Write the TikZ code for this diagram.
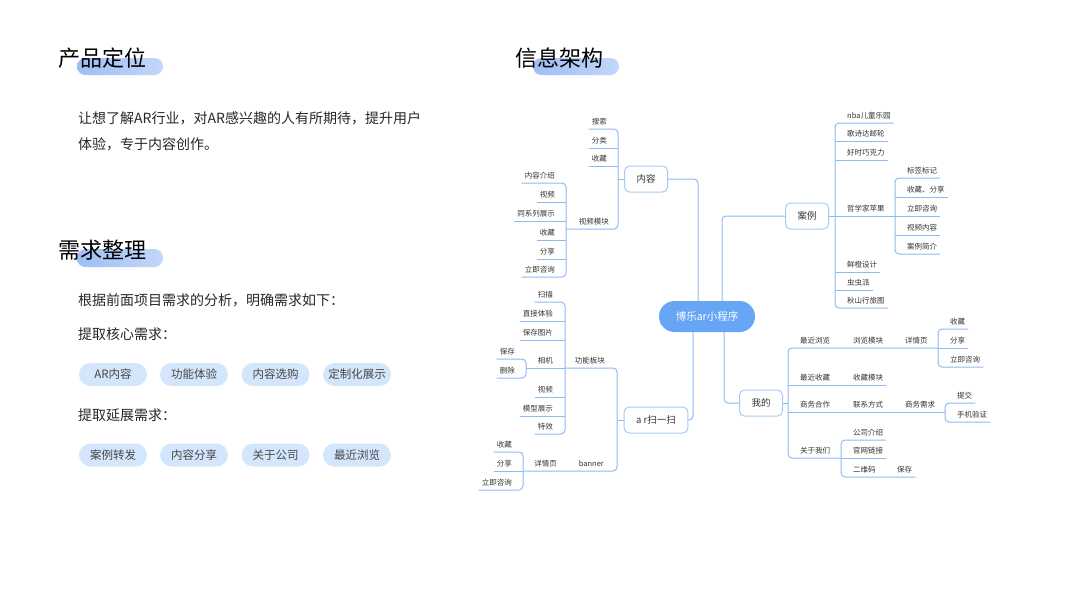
\documentclass[tikz,border=0pt]{standalone}
\usepackage{fontspec}
\setmainfont{Noto Sans CJK SC}
\definecolor{lineblue}{HTML}{8DB9F5}
\definecolor{boxblue}{HTML}{A8C9F7}
\definecolor{mainblue}{HTML}{66A6F5}
\definecolor{tagblue}{HTML}{D4E6FC}
\definecolor{pillL}{HTML}{9FBEF5}
\definecolor{pillR}{HTML}{C3D7FA}
\definecolor{txtgray}{HTML}{333333}

\begin{document}
\begin{tikzpicture}[x=1pt, y=-1pt,
    branch/.style={draw=lineblue, line width=1pt, rounded corners=4pt},
    topic/.style={draw=boxblue, line width=1pt, rounded corners=5pt, fill=white, minimum height=26pt, inner xsep=12pt, font=\fontsize{9.5}{11}\selectfont, text=txtgray},
    hub/.style={fill=mainblue, rounded corners=15.5pt, minimum width=96pt, minimum height=31pt, font=\fontsize{10.5}{12}\selectfont, text=white},
    leafL/.style={anchor=south east, inner xsep=3pt, inner ysep=3pt, text height=6.5pt, text depth=1pt, font=\fontsize{7.5}{9}\selectfont, text=txtgray},
    leafR/.style={leafL, anchor=south west},
    title/.style={anchor=west, inner sep=0pt, font=\fontsize{22}{26}\selectfont},
    body/.style={anchor=west, inner sep=0pt, font=\fontsize{14}{16}\selectfont, text=black!85},
    tag/.style={fill=tagblue, rounded corners=11.5pt, minimum width=68pt, minimum height=23pt, inner sep=0pt, font=\fontsize{11.5}{13}\selectfont, text=black!72},
    pill/.style={left color=pillL, right color=pillR, rounded corners=8.5pt}]
\useasboundingbox (0,0) rectangle (1067,600);

% Left column
\path[pill] (77,58) rectangle (163,75);
\node[title] (dingwei) at (58,58) {产品定位};
\node[body] (dwtxtA) at (78,118) {让想了解AR行业，对AR感兴趣的人有所期待，提升用户};
\node[body] (dwtxtB) at (78,144) {体验，专于内容创作。};

\path[pill] (77,249) rectangle (163,267);
\node[title] (xuqiu) at (58,250) {需求整理};
\node[body] (xqtxtA) at (78,300) {根据前面项目需求的分析，明确需求如下：};
\node[body] (xqtxtB) at (78,334) {提取核心需求：};
\node[tag] (hexA) at (113,374.5) {AR内容};
\node[tag] (hexB) at (194,374.5) {功能体验};
\node[tag] (hexC) at (275.5,374.5) {内容选购};
\node[tag] (hexD) at (357,374.5) {定制化展示};
\node[body] (xqtxtC) at (78,415) {提取延展需求：};
\node[tag] (yanA) at (113,455) {案例转发};
\node[tag] (yanB) at (194,455) {内容分享};
\node[tag] (yanC) at (275.5,455) {关于公司};
\node[tag] (yanD) at (357,455) {最近浏览};

% Mind map
\path[pill] (533,58) rectangle (619,75);
\node[title] (jiagou) at (515,58) {信息架构};

\node[hub] (hub) at (707,316.5) {博乐ar小程序};
\node[topic] (neirong) at (646,179) {内容};
\node[topic] (anli) at (807,216) {案例};
\node[topic] (wode) at (761,403) {我的};
\node[topic] (arsys) at (656,420) {a r扫一扫};
\coordinate (c1) at (698,316);
\coordinate (c2) at (722,316);
\coordinate (c3) at (724,316);
\coordinate (c4) at (693,316);
\draw[branch] (neirong.east) -| (c1 |- hub.north);
\draw[branch] (anli.west) -| (c2 |- hub.north);
\draw[branch] (wode.west) -| (c3 |- hub.south);
\draw[branch] (arsys.east) -| (c4 |- hub.south);

% 内容
\coordinate (t1) at (618,179);
\coordinate (t2) at (566,229);
\node[leafL] (sousuo) at (610,129) {搜索};
\node[leafL] (fenlei) at (610,148) {分类};
\node[leafL] (shoucangA) at (610,166) {收藏};
\node[leafL] (spmk) at (612,229) {视频模块};
\draw[branch] (neirong.west) -- (t1);
\draw[branch] (sousuo.south west) -- (t1 |- sousuo.south) -- (t1 |- spmk.south) -- (t2);
\draw[branch] (fenlei.south west) -- (t1 |- fenlei.south);
\draw[branch] (shoucangA.south west) -- (t1 |- shoucangA.south);
\node[leafL] (nrjs) at (558,183) {内容介绍};
\node[leafL] (shipinA) at (558,202) {视频};
\node[leafL] (txlzs) at (558,221) {同系列展示};
\node[leafL] (shoucangB) at (558,240) {收藏};
\node[leafL] (fenxiangA) at (558,259) {分享};
\node[leafL] (zixunA) at (558,277) {立即咨询};
\draw[branch] (nrjs.south west) -- (t2 |- nrjs.south) -- (t2 |- zixunA.south) -- (zixunA.south west);
\draw[branch] (shipinA.south west) -- (t2 |- shipinA.south);
\draw[branch] (txlzs.south west) -- (t2 |- txlzs.south);
\draw[branch] (shoucangB.south west) -- (t2 |- shoucangB.south);
\draw[branch] (fenxiangA.south west) -- (t2 |- fenxiangA.south);

% 案例
\coordinate (t3) at (835,216);
\coordinate (t4) at (895,216);
\node[leafR] (nba) at (844,123) {nba儿童乐园};
\node[leafR] (gsd) at (844,141) {歌诗达邮轮};
\node[leafR] (hsqkl) at (844,160) {好时巧克力};
\node[leafR] (zxjpg) at (844,216) {哲学家苹果};
\node[leafR] (xcsj) at (844,272) {鲜橙设计};
\node[leafR] (ccp) at (844,290) {虫虫派};
\node[leafR] (sxlxt) at (844,308) {秋山行旅图};
\draw[branch] (anli.east) -- (t4);
\draw[branch] (nba.south east) -- (t3 |- nba.south) -- (t3 |- sxlxt.south) -- (sxlxt.south east);
\draw[branch] (t3 |- gsd.south) -- (gsd.south east);
\draw[branch] (t3 |- hsqkl.south) -- (hsqkl.south east);
\draw[branch] (t3 |- xcsj.south) -- (xcsj.south east);
\draw[branch] (t3 |- ccp.south) -- (ccp.south east);
\node[leafR] (bqbj) at (904,178) {标签标记};
\node[leafR] (scfx) at (904,197) {收藏、分享};
\node[leafR] (zixunB) at (904,216) {立即咨询};
\node[leafR] (spnr) at (904,235) {视频内容};
\node[leafR] (aljj) at (904,254) {案例简介};
\draw[branch] (bqbj.south east) -- (t4 |- bqbj.south) -- (t4 |- aljj.south) -- (aljj.south east);
\draw[branch] (t4 |- scfx.south) -- (scfx.south east);
\draw[branch] (t4) -- (zixunB.south east);
\draw[branch] (t4 |- spnr.south) -- (spnr.south east);

% 我的
\coordinate (t5) at (788,403);
\coordinate (t6) at (938,348);
\coordinate (t7) at (945,412);
\coordinate (t8) at (841,458);
\node[leafR] (zjll) at (797,348) {最近浏览};
\node[leafR] (llmk) at (850,348) {浏览模块};
\node[leafR] (xqyA) at (902,348) {详情页};
\node[leafR] (zjsc) at (797,385) {最近收藏};
\node[leafR] (scmk) at (850,385) {收藏模块};
\node[leafR] (swhz) at (797,412) {商务合作};
\node[leafR] (lxfs) at (850,412) {联系方式};
\node[leafR] (swxq) at (902,412) {商务需求};
\node[leafR] (gywm) at (797,458) {关于我们};
\draw[branch] (wode.east) -- (t5);
\draw[branch] (t6) -- (t5 |- zjll.south) -- (t5 |- gywm.south) -- (t8);
\draw[branch] (t5 |- zjsc.south) -- (scmk.south east);
\draw[branch] (t5 |- swhz.south) -- (t7);
\node[leafR] (shoucangC) at (947,329) {收藏};
\node[leafR] (fenxiangB) at (947,348) {分享};
\node[leafR] (zixunC) at (947,367) {立即咨询};
\draw[branch] (shoucangC.south east) -- (t6 |- shoucangC.south) -- (t6 |- zixunC.south) -- (zixunC.south east);
\draw[branch] (t6) -- (fenxiangB.south east);
\node[leafR] (tijiao) at (954,403) {提交};
\node[leafR] (sjyz) at (954,422) {手机验证};
\draw[branch] (tijiao.south east) -- (t7 |- tijiao.south) -- (t7 |- sjyz.south) -- (sjyz.south east);
\node[leafR] (gsjs) at (850,440) {公司介绍};
\node[leafR] (gwlj) at (850,458) {官网链接};
\node[leafR] (ewm) at (850,477) {二维码};
\node[leafR] (baocunA) at (894,477) {保存};
\draw[branch] (gsjs.south east) -- (t8 |- gsjs.south) -- (t8 |- ewm.south) -- (baocunA.south east);
\draw[branch] (t8) -- (gwlj.south east);

% ar扫一扫
\coordinate (t9) at (617,420);
\coordinate (t10) at (565,368);
\coordinate (t11) at (523,471);
\coordinate (t12) at (526,368);
\node[leafL] (gnbk) at (608,368) {功能板块};
\node[leafL] (banner) at (607,471) {banner};
\node[leafL] (xqyB) at (560,471) {详情页};
\draw[branch] (arsys.west) -- (t9);
\draw[branch] (t10) -- (t9 |- gnbk.south) -- (t9 |- banner.south) -- (t11);
\node[leafL] (saomiao) at (556,302) {扫描};
\node[leafL] (zjty) at (556,321) {直接体验};
\node[leafL] (bctp) at (556,340) {保存图片};
\node[leafL] (xiangji) at (556,368) {相机};
\node[leafL] (shipinB) at (556,397) {视频};
\node[leafL] (mxzs) at (556,416) {模型展示};
\node[leafL] (texiao) at (556,434) {特效};
\draw[branch] (saomiao.south west) -- (t10 |- saomiao.south) -- (t10 |- texiao.south) -- (texiao.south west);
\draw[branch] (zjty.south west) -- (t10 |- zjty.south);
\draw[branch] (bctp.south west) -- (t10 |- bctp.south);
\draw[branch] (shipinB.south west) -- (t10 |- shipinB.south);
\draw[branch] (mxzs.south west) -- (t10 |- mxzs.south);
\draw[branch] (t10) -- (t12);
\node[leafL] (baocunB) at (518,359) {保存};
\node[leafL] (shanchu) at (518,378) {删除};
\draw[branch] (baocunB.south west) -- (t12 |- baocunB.south) -- (t12 |- shanchu.south) -- (shanchu.south west);
\node[leafL] (shoucangD) at (515,452) {收藏};
\node[leafL] (fenxiangC) at (515,471) {分享};
\node[leafL] (zixunD) at (515,490) {立即咨询};
\draw[branch] (shoucangD.south west) -- (t11 |- shoucangD.south) -- (t11 |- zixunD.south) -- (zixunD.south west);
\draw[branch] (fenxiangC.south west) -- (t11);
\end{tikzpicture}
\end{document}
